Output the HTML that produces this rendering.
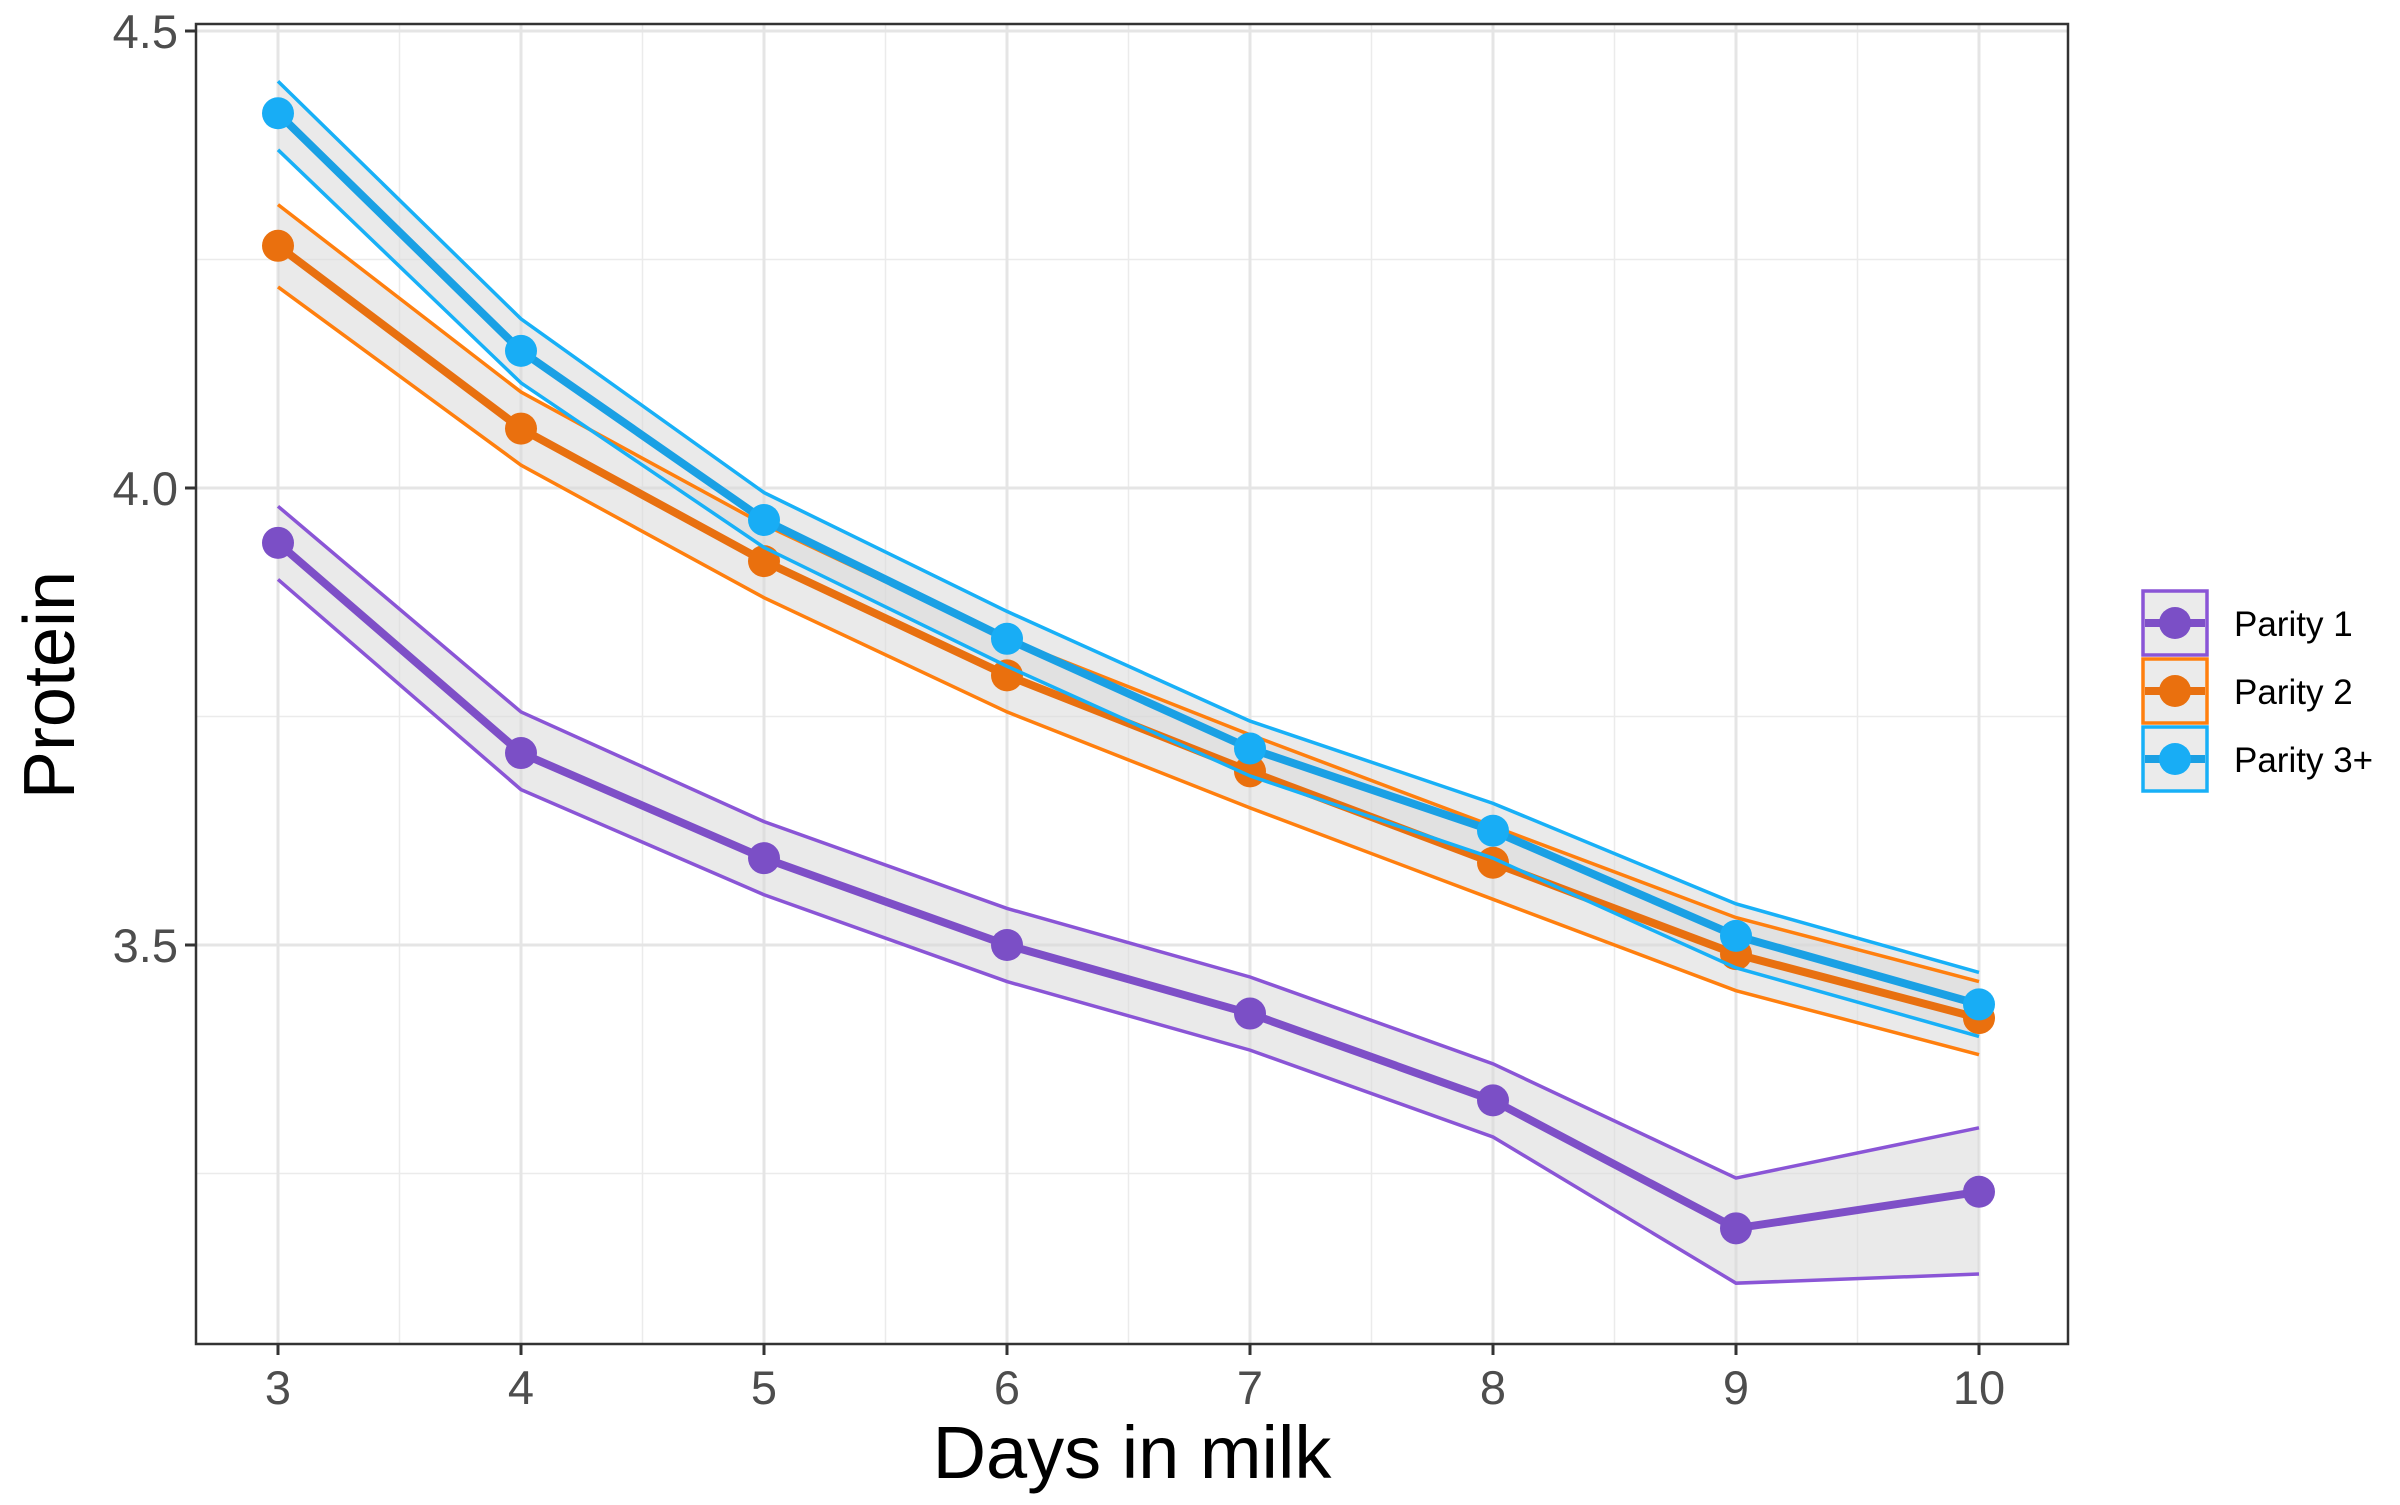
<!DOCTYPE html>
<html><head><meta charset="utf-8"><style>
body{margin:0;background:#fff;}
svg text{font-family:"Liberation Sans",Arial,sans-serif;}
</style></head><body>
<svg id="chart" width="2400" height="1500" viewBox="0 0 2400 1500" xmlns="http://www.w3.org/2000/svg">
<g id="grid"></g>
<g id="series"></g>
<rect x="196" y="24" width="1872" height="1320" fill="none" stroke="#333" stroke-width="2.5"/>
<g id="axes"></g>
<text x="1132" y="1478" font-size="74" text-anchor="middle" fill="#000">Days in milk</text>
<text transform="translate(74,685) rotate(-90)" font-size="72" text-anchor="middle" fill="#000">Protein</text>
<g id="legend"></g>
</svg>
<script>
const days = [3,4,5,6,7,8,9,10];
const seriesNames = ["Parity 1","Parity 2","Parity 3+"];
const p1Mean = [3.94,3.71,3.595,3.50,3.425,3.33,3.19,3.23];
const p1Upper = [3.98,3.755,3.635,3.54,3.465,3.37,3.245,3.30];
const p1Lower = [3.90,3.67,3.555,3.46,3.385,3.29,3.13,3.14];
const p2Mean = [4.265,4.065,3.92,3.795,3.69,3.59,3.49,3.42];
const p2Upper = [4.31,4.105,3.96,3.835,3.73,3.63,3.53,3.46];
const p2Lower = [4.22,4.025,3.88,3.755,3.65,3.55,3.45,3.38];
const p3Mean = [4.41,4.15,3.965,3.835,3.715,3.625,3.51,3.435];
const p3Upper = [4.445,4.185,3.995,3.865,3.745,3.655,3.545,3.47];
const p3Lower = [4.37,4.115,3.935,3.805,3.685,3.595,3.475,3.40];
const yTicks = [3.5,4.0,4.5];
const yTickLabels = ["3.5","4.0","4.5"];
const yMinor = [3.25,3.75,4.25];
const xTicks = [3,4,5,6,7,8,9,10];

const NS="http://www.w3.org/2000/svg";
const L=196,R=2068,T=24,B=1344;
function xs(d){return 278+(d-3)*243;}
function ys(v){return 488-(v-4)*914;}
function el(tag,attrs,parent){const e=document.createElementNS(NS,tag);for(const k in attrs)e.setAttribute(k,attrs[k]);parent.appendChild(e);return e;}
const grid=document.getElementById('grid'),axes=document.getElementById('axes'),ser=document.getElementById('series'),leg=document.getElementById('legend');
el('rect',{x:L,y:T,width:R-L,height:B-T,fill:'#fff'},grid);
yMinor.forEach(v=>{const g=el('line',{x1:L,x2:R,y1:ys(v),y2:ys(v),stroke:'#ebebeb','stroke-width':1.5},grid);

});
for(let i=0;i<xTicks.length-1;i++){const g=el('line',{y1:T,y2:B,x1:xs(xTicks[i]+0.5),x2:xs(xTicks[i]+0.5),stroke:'#ebebeb','stroke-width':1.5},grid);

}
yTicks.forEach((v,i)=>{const g=el('line',{x1:L,x2:R,y1:ys(v),y2:ys(v),stroke:'#e5e5e5','stroke-width':3},grid);


const t=el('line',{x1:L-11,x2:L,y1:ys(v),y2:ys(v),stroke:'#333','stroke-width':3},axes);


const tx=el('text',{x:L-18,y:ys(v)+17,'font-size':47,'text-anchor':'end',fill:'#4d4d4d'},axes);tx.textContent=yTickLabels[i];

});
xTicks.forEach(d=>{const g=el('line',{y1:T,y2:B,x1:xs(d),x2:xs(d),stroke:'#e5e5e5','stroke-width':3},grid);


const t=el('line',{y1:B,y2:B+11,x1:xs(d),x2:xs(d),stroke:'#333','stroke-width':3},axes);


const tx=el('text',{x:xs(d),y:B+60,'font-size':47,'text-anchor':'middle',fill:'#4d4d4d'},axes);tx.textContent=d;

});
const data=[[p1Mean,p1Upper,p1Lower,'#7e4fc7','#8a55d6','#7b4fc6'],[p2Mean,p2Upper,p2Lower,'#e87010','#ff7f0e','#ea700e'],[p3Mean,p3Upper,p3Lower,'#1aa0e4','#18b0f7','#18adf5']];
function pts(arr){return arr.map((v,i)=>xs(days[i])+','+ys(v)).join(' ');}
data.forEach(([m,u,lo])=>{const poly=u.map((v,i)=>xs(days[i])+','+ys(v)).concat(lo.map((v,i)=>[i,v]).reverse().map(([i,v])=>xs(days[i])+','+ys(v))).join(' ');
const p=el('polygon',{points:poly,fill:'#d9d9d9','fill-opacity':0.55},ser);

});
data.forEach(([m,u,lo,mc,cc,pc],si)=>{
[u,lo].forEach(a=>{const l=el('polyline',{points:pts(a),fill:'none',stroke:cc,'stroke-width':3.5},ser);

});
const l=el('polyline',{points:pts(m),fill:'none',stroke:mc,'stroke-width':8,'stroke-linejoin':'round'},ser);


m.forEach((v,i)=>{const c=el('circle',{cx:xs(days[i]),cy:ys(v),r:16,fill:pc},ser);

});
const ky=589+si*68;
const r=el('rect',{x:2143,y:ky+2,width:64,height:64,fill:'#ebebeb',stroke:cc,'stroke-width':3.5},leg);


el('line',{x1:2145,x2:2205,y1:ky+34,y2:ky+34,stroke:mc,'stroke-width':8},leg);
el('circle',{cx:2175,cy:ky+34,r:16,fill:pc},leg);
const t=el('text',{x:2234,y:ky+47,'font-size':35,fill:'#000'},leg);t.textContent=seriesNames[si];


});
</script>
</body></html>
